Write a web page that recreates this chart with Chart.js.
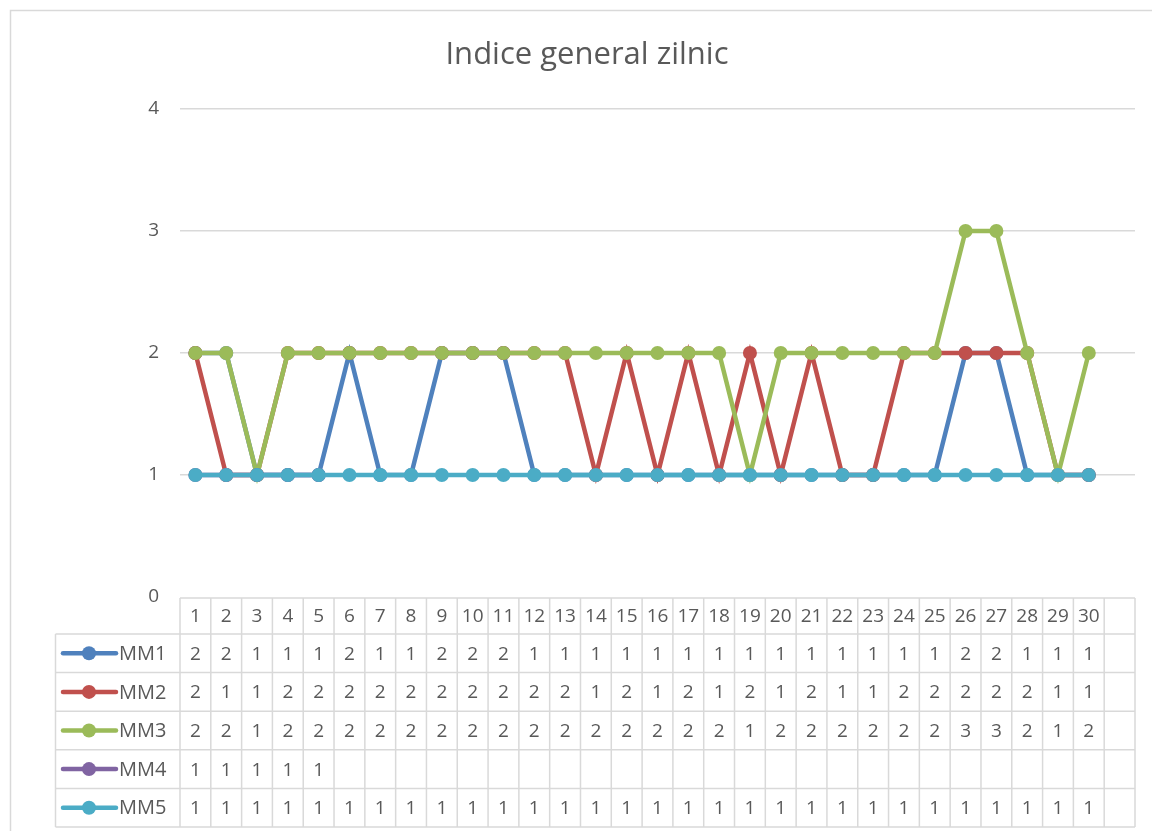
<!DOCTYPE html>
<html>
<head>
<meta charset="utf-8">
<script src="https://cdn.jsdelivr.net/npm/chart.js@4"></script>
<style>
  html, body { margin: 0; padding: 0; background: #fff; }
  #wrap { width: 1152px; height: 831px; }
</style>
</head>
<body>
<div id="wrap"><canvas id="myChart"></canvas></div>
<script>
// data
var days = ['1','2','3','4','5','6','7','8','9','10','11','12','13','14','15','16','17','18','19','20','21','22','23','24','25','26','27','28','29','30',''];
var seriesNames = ['MM1', 'MM2', 'MM3', 'MM4', 'MM5'];
var mm1 = [2,2,1,1,1,2,1,1,2,2,2,1,1,1,1,1,1,1,1,1,1,1,1,1,1,2,2,1,1,1];
var mm2 = [2,1,1,2,2,2,2,2,2,2,2,2,2,1,2,1,2,1,2,1,2,1,1,2,2,2,2,2,1,1];
var mm3 = [2,2,1,2,2,2,2,2,2,2,2,2,2,2,2,2,2,2,1,2,2,2,2,2,2,3,3,2,1,2];
var mm4 = [1,1,1,1,1];
var mm5 = [1,1,1,1,1,1,1,1,1,1,1,1,1,1,1,1,1,1,1,1,1,1,1,1,1,1,1,1,1,1];
var yTicks = [0, 1, 2, 3, 4];
var chartTitle = 'Indice general zilnic';

var colors = ['#4F81BD', '#C0504D', '#9BBB59', '#8064A2', '#4BACC6'];
var values = [mm1, mm2, mm3, mm4, mm5];
var textColor = '#595959';
var lineColor = '#d9d9d9';
var font = '"Open Sans", sans-serif';

// pad each series to the category count, missing cells stay empty
function padded(arr) {
  var out = [];
  for (var i = 0; i < days.length; i++) out.push(i < arr.length ? arr[i] : null);
  return out;
}

var datasets = seriesNames.map(function (name, i) {
  return {
    label: name,
    data: padded(values[i]),
    borderColor: colors[i],
    backgroundColor: colors[i],
    borderWidth: 4.5,
    pointRadius: 7,
    pointBorderWidth: 0,
    pointHoverRadius: 7,
    spanGaps: false,
    order: seriesNames.length - i   // later series on top, like Excel
  };
});

// frame, title and data table under the plot
var tablePlugin = {
  id: 'dataTable',
  beforeDraw: function (chart) {
    var ctx = chart.ctx;
    ctx.save();
    ctx.fillStyle = '#fff';
    ctx.fillRect(0, 0, chart.width, chart.height);
    ctx.strokeStyle = lineColor;
    ctx.lineWidth = 1.5;
    ctx.strokeRect(10.5, 10.5, chart.width + 20, chart.height + 20);
    ctx.restore();
  },
  afterDraw: function (chart) {
    var ctx = chart.ctx;
    var area = chart.chartArea;
    var x = chart.scales.x;
    var colW = area.width / days.length;
    var headTop = area.bottom + 1, headBot = headTop + 36;
    var rowH = 38.6;
    var leftEdge = 55.5;
    var rows = values.length;
    var tableBot = headBot + rowH * rows;

    ctx.save();
    // title
    ctx.fillStyle = textColor;
    ctx.font = '31px ' + font;
    ctx.textAlign = 'center';
    ctx.textBaseline = 'middle';
    ctx.fillText(chartTitle, 587, 55);

    // grid of the table
    ctx.strokeStyle = lineColor;
    ctx.lineWidth = 1.5;
    ctx.beginPath();
    ctx.moveTo(area.left, headTop); ctx.lineTo(area.right, headTop);
    for (var r = 0; r <= rows; r++) {
      var yy = headBot + r * rowH;
      ctx.moveTo(leftEdge, yy); ctx.lineTo(area.right, yy);
    }
    ctx.moveTo(leftEdge, headBot); ctx.lineTo(leftEdge, tableBot);
    for (var c = 0; c <= days.length; c++) {
      var xx = area.left + c * colW;
      ctx.moveTo(xx, headTop); ctx.lineTo(xx, tableBot);
    }
    ctx.stroke();

    // header labels
    ctx.font = '19px ' + font;
    ctx.fillStyle = textColor;
    days.forEach(function (d, i) {
      ctx.fillText(d, x.getPixelForValue(i), (headTop + headBot) / 2 + 1);
    });

    // rows: legend key + values
    for (var s = 0; s < rows; s++) {
      var cy = headBot + s * rowH + rowH / 2;
      ctx.strokeStyle = colors[s];
      ctx.lineWidth = 4.5;
      ctx.lineCap = 'round';
      ctx.beginPath();
      ctx.moveTo(63, cy); ctx.lineTo(116, cy);
      ctx.stroke();
      ctx.fillStyle = colors[s];
      ctx.beginPath();
      ctx.arc(89, cy, 7, 0, Math.PI * 2);
      ctx.fill();
      ctx.fillStyle = textColor;
      ctx.textAlign = 'left';
      ctx.font = '20px ' + font;
      ctx.fillText(seriesNames[s], 119, cy + 1);
      ctx.textAlign = 'center';
      ctx.font = '19px ' + font;
      values[s].forEach(function (v, i) {
        ctx.fillText(String(v), x.getPixelForValue(i), cy + 1);
      });
    }
    ctx.restore();
  }
};

var ctx = document.getElementById('myChart').getContext('2d');
var myChart = new Chart(ctx, {
  type: 'line',
  data: { labels: days, datasets: datasets },
  plugins: [tablePlugin],
  options: {
    responsive: true,
    maintainAspectRatio: false,
    animation: false,
    layout: { padding: { left: 12, right: 17, top: 109, bottom: 234 } },
    plugins: {
      legend: { display: false },
      title: { display: false },
      tooltip: { enabled: false }
    },
    scales: {
      x: {
        type: 'category',
        offset: true,
        display: false
      },
      y: {
        min: 0,
        max: 4,
        afterBuildTicks: function (scale) {
          scale.ticks = yTicks.map(function (v) { return { value: v }; });
        },
        afterFit: function (scale) { scale.width = 168; },
        border: { display: false },
        grid: {
          color: function (c) { return c.tick.value === 0 ? 'rgba(0,0,0,0)' : lineColor; },
          lineWidth: 1.5,
          drawTicks: false
        },
        ticks: {
          color: textColor,
          font: { family: '"Open Sans", sans-serif', size: 19 },
          padding: 21
        }
      }
    }
  }
});
</script>
</body>
</html>
